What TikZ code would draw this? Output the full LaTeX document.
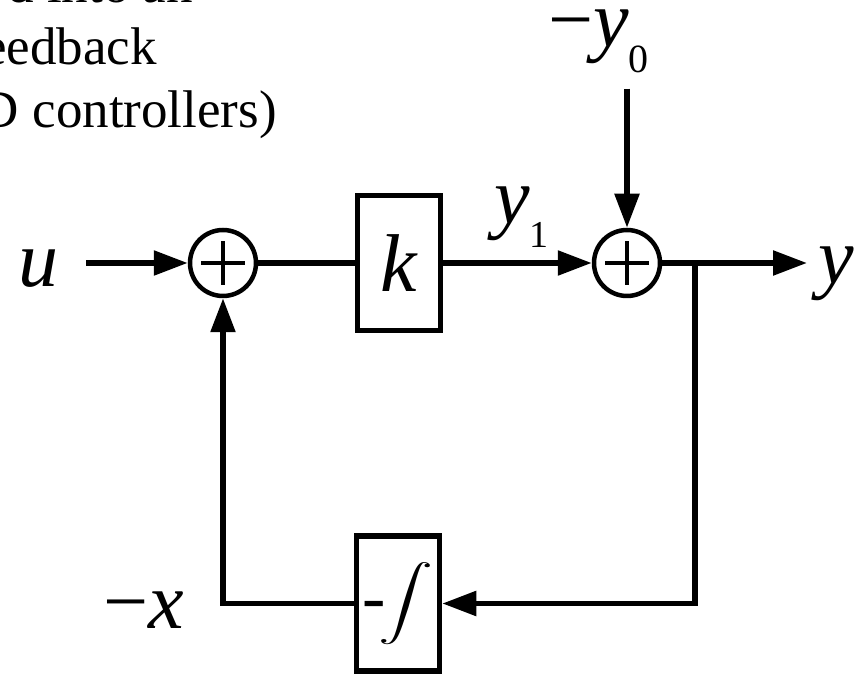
\documentclass[tikz,border=0pt]{standalone}
\usepackage{fontspec}
\usepackage{graphicx}
\setmainfont{Liberation Serif}
\usetikzlibrary{arrows.meta, positioning}

\begin{document}
\begin{tikzpicture}[x=1pt, y=1pt,
      wire/.style={line width=5.5pt},
      sig/.style={wire, -{Triangle[length=34pt, width=24pt]}},
      block/.style={draw, line width=5.5pt, minimum width=83pt, minimum height=135pt, inner sep=0pt},
      sumnode/.style={circle, draw, line width=4.5pt, minimum size=66pt, inner sep=0pt,
                      path picture={\draw[line width=4pt]
                        ([xshift=-22pt]path picture bounding box.center) -- ++(44pt,0)
                        ([yshift=-22pt]path picture bounding box.center) -- ++(0,44pt);}},
      lbl/.style={font=\fontsize{80}{86}\selectfont\itshape, inner sep=0pt},
      note/.style={font=\fontsize{53}{63}\selectfont, inner sep=0pt, anchor=base east}]

    \useasboundingbox (0,0) rectangle (865,675);

    % text running in from the left margin
    \node[note] (txta) at (193,672) {d into an};
    \node[note] (txtb) at (157,610) {eedback};
    \node[note] (txtc) at (277,547) {D controllers)};

    % forward path
    \node[sumnode] (sum1) at (223,412) {};
    \node[block]   (gain) at (399,412) {\fontsize{82}{88}\selectfont\itshape k};
    \node[sumnode] (sum2) at (627,412) {};
    \coordinate    (branch) at (695,412);

    % feedback block
    \node[block] (integ) at (398,71.5)
      {\raisebox{-8pt}{\fontsize{70}{70}\selectfont -}\hspace{-7pt}\scalebox{5.5}[3.7]{$\displaystyle\int$}\hspace{4pt}};

    % signal labels
    \node[lbl, anchor=base west] (uin)  at (18,388)  {u};
    \node[lbl, anchor=base west] (y1)   at (494,451) {y\raisebox{-24pt}{\upshape\fontsize{38}{38}\selectfont 1}};
    \node[lbl, anchor=base west, inner xsep=11pt] (yout) at (807,391) {y};
    \node[lbl, anchor=base west] (ytop) at (548,628)
      {\upshape −\itshape y\raisebox{-26pt}{\upshape\fontsize{40}{40}\selectfont 0}};
    \node[lbl, anchor=base west] (xfb)  at (103,47) {\upshape −\itshape x};

    % connectors
    \draw[sig, shorten <=28pt] (uin.east |- sum1) -- (sum1.west);
    \draw[wire] (sum1) -- (gain);
    \draw[sig] (gain) -- (sum2);
    \draw[sig, shorten <=15pt] (ytop.south -| sum2) -- (sum2.north);
    \draw[sig] (sum2) -- (yout.west |- sum2);
    \draw[sig] (branch) |- (integ.east);
    \draw[sig] (integ.west) -| (sum1.south);

\end{tikzpicture}
\end{document}
